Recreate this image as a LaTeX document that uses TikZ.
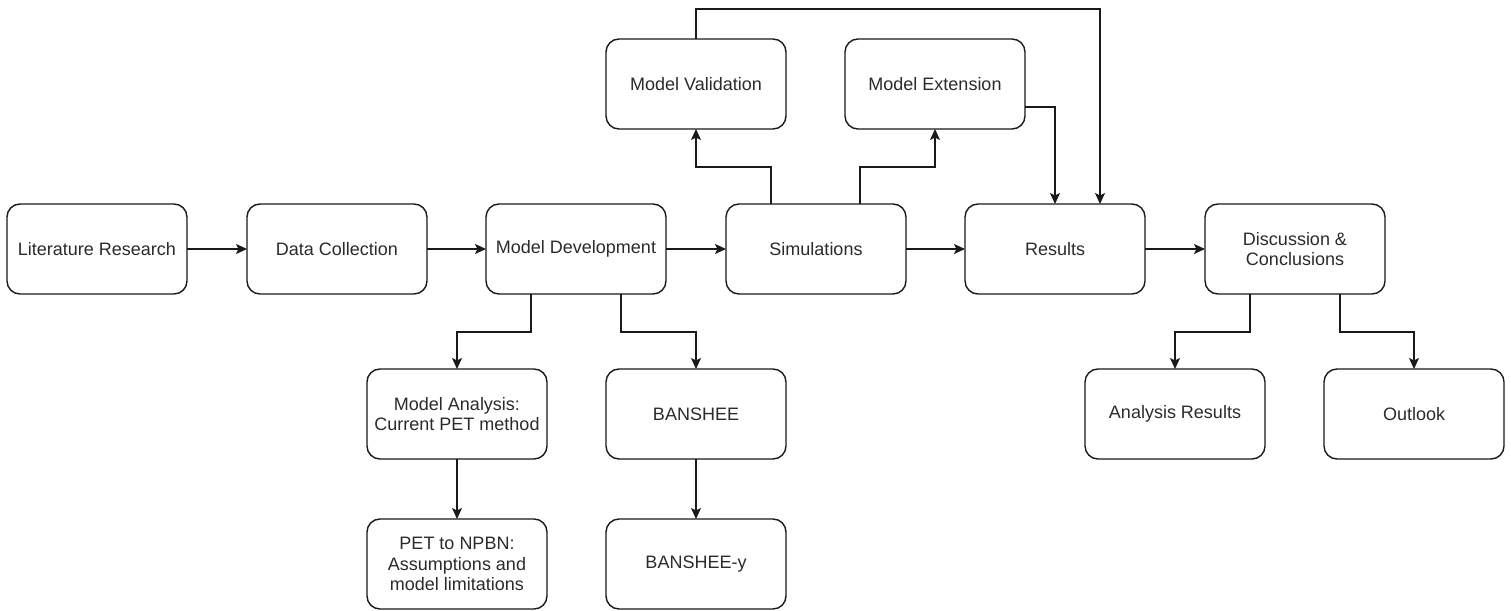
\documentclass[tikz,border=0pt]{standalone}
\usepackage{fontspec}
\setmainfont{Liberation Sans}
\usetikzlibrary{arrows.meta}
\definecolor{ink}{HTML}{1A1A1A}
\definecolor{txt}{HTML}{2B2B2B}
\begin{document}
\begin{tikzpicture}[x=1bp,y=-1bp,
  box/.style={draw=ink, line width=1.4bp, rounded corners=13bp, fill=white,
    minimum width=180bp, minimum height=90bp, inner sep=0pt, outer sep=0pt,
    align=center, text=txt, font=\fontsize{18bp}{20.7bp}\selectfont},
  arr/.style={draw=ink, line width=1.4bp,
    -{Stealth[length=11bp, width=10bp, inset=2.5bp]}}]
  \useasboundingbox[fill=white] (0,0) rectangle (1511,611);

  % main row
  \node[box] (lit)  at (97,249)   {Literature Research};
  \node[box] (data) at (337,249)  {Data Collection};
  \node[box] (dev)  at (576,249)  {Model Development};
  \node[box] (sim)  at (816,249)  {Simulations};
  \node[box] (res)  at (1055,249) {Results};
  \node[box] (disc) at (1295,249) {Discussion \&\\Conclusions};

  % upper row
  \node[box] (val) at (696,84) {Model Validation};
  \node[box] (ext) at (935,84) {Model Extension};

  % lower rows
  \node[box] (ana)  at (457,414)  {Model Analysis:\\Current PET method};
  \node[box] (ban)  at (696,414)  {BANSHEE};
  \node[box] (pet)  at (457,564)  {PET to NPBN:\\Assumptions and\\model limitations};
  \node[box] (bany) at (696,564)  {BANSHEE-y};
  \node[box] (ares) at (1175,414) {Analysis Results};
  \node[box] (out)  at (1414,414) {Outlook};

  % connectors along the main row
  \draw[arr] (lit.east) -- (data.west);
  \draw[arr] (data.east) -- (dev.west);
  \draw[arr] (dev.east) -- (sim.west);
  \draw[arr] (sim.east) -- (res.west);
  \draw[arr] (res.east) -- (disc.west);

  % simulations to validation / extension
  \draw[arr] ([xshift=-45bp]sim.north) -- ++(0,-37) -| (val.south);
  \draw[arr] ([xshift=44bp]sim.north) -- ++(0,-37) -| (ext.south);

  % into results
  \draw[arr] ([yshift=-23bp]ext.east) -| (res.north);
  \draw[arr] (val.north) -- ++(0,-30) -| ([xshift=45bp]res.north);

  % model development branches
  \draw[arr] ([xshift=-45bp]dev.south) -- ++(0,38) -| (ana.north);
  \draw[arr] ([xshift=45bp]dev.south) -- ++(0,38) -| (ban.north);
  \draw[arr] (ana.south) -- (pet.north);
  \draw[arr] (ban.south) -- (bany.north);

  % discussion branches
  \draw[arr] ([xshift=-45bp]disc.south) -- ++(0,38) -| (ares.north);
  \draw[arr] ([xshift=45bp]disc.south) -- ++(0,38) -| (out.north);
\end{tikzpicture}
\end{document}
